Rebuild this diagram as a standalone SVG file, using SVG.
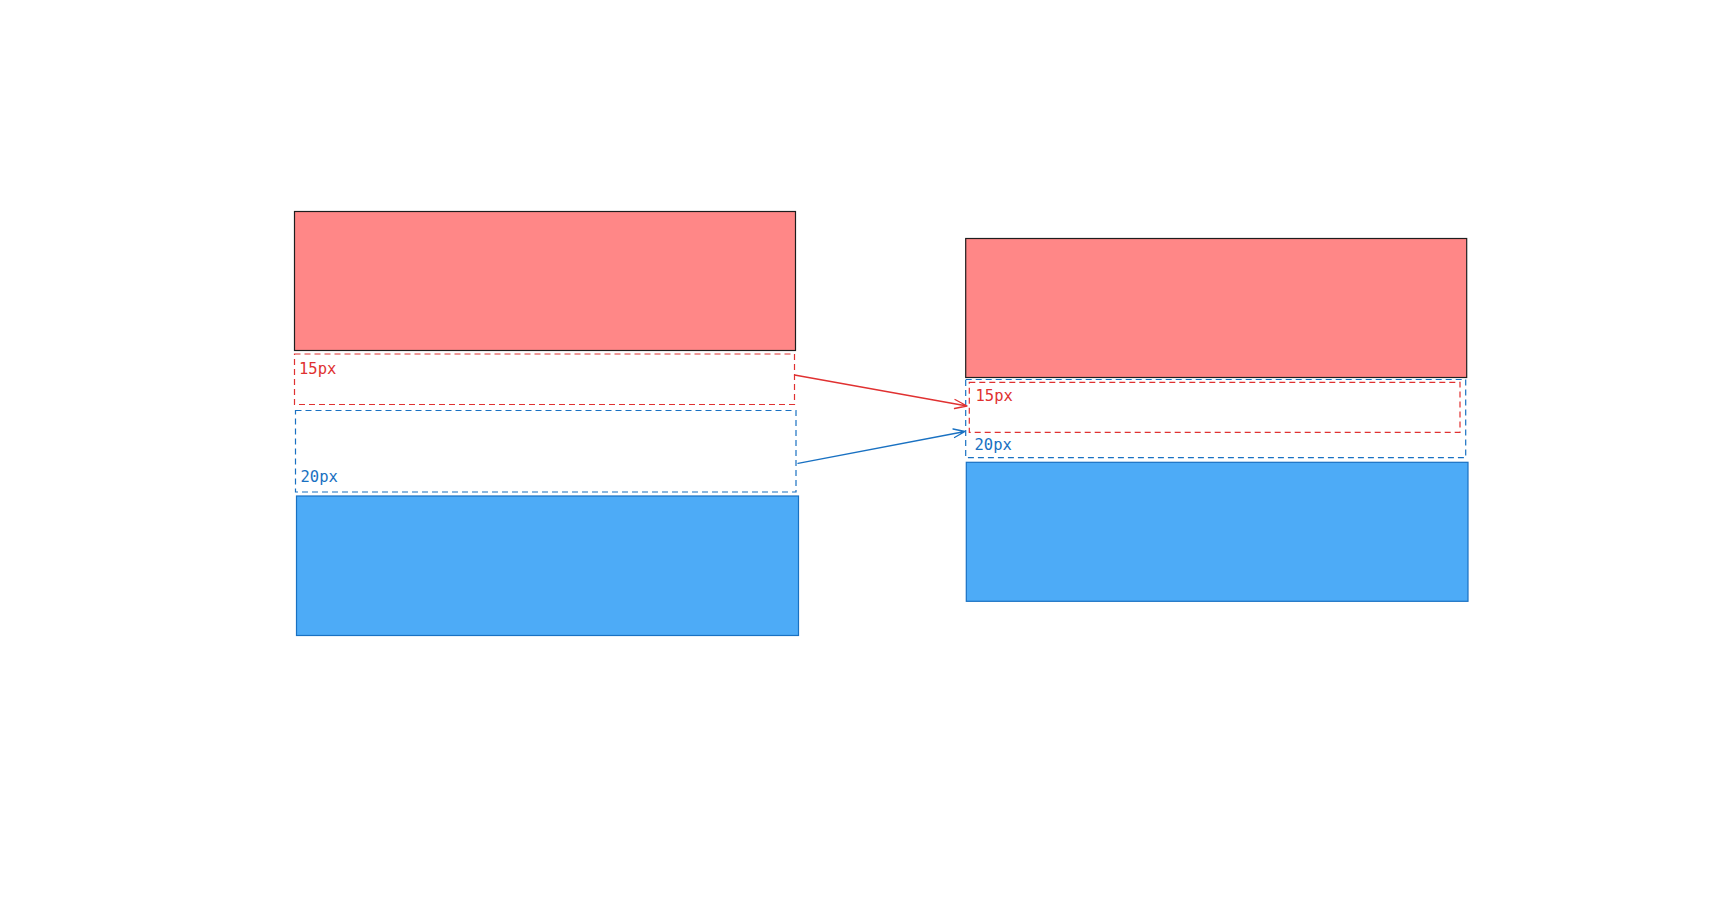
<svg xmlns="http://www.w3.org/2000/svg" width="1715" height="913" viewBox="0 0 1715 913">
<style>
.redbox{fill:#ff8787;stroke:#1e1e1e;stroke-width:1.2}
.bluebox{fill:#4dabf7;stroke:#1971c2;stroke-width:1.2}
.rdash{fill:none;stroke:#e03131;stroke-width:1.2;stroke-dasharray:6 4}
.bdash{fill:none;stroke:#1971c2;stroke-width:1.2;stroke-dasharray:6 4}
.rt{fill:#e03131;font-family:"DejaVu Sans Mono","Liberation Mono",monospace;font-size:15.5px}
.bt{fill:#1971c2;font-family:"DejaVu Sans Mono","Liberation Mono",monospace;font-size:15.5px}
.ra{fill:none;stroke:#e03131;stroke-width:1.3;stroke-linecap:round;stroke-linejoin:round}
.ba{fill:none;stroke:#1971c2;stroke-width:1.3;stroke-linecap:round;stroke-linejoin:round}
</style>
<rect width="1715" height="913" fill="#ffffff"/>
<g id="left-red"><rect class="redbox" x="294.5" y="211.5" width="501" height="139"/></g>
<g id="left-red-margin"><rect class="rdash" x="294.5" y="354" width="500" height="50.5"/><text class="rt" x="299" y="374">15px</text></g>
<g id="left-blue-margin"><rect class="bdash" x="295.5" y="410.5" width="500.5" height="81.5"/><text class="bt" x="300.5" y="482">20px</text></g>
<g id="left-blue"><rect class="bluebox" x="296.5" y="496" width="502" height="139.5"/></g>
<g id="right-red"><rect class="redbox" x="965.7" y="238.5" width="501" height="139"/></g>
<g id="right-blue-margin"><rect class="bdash" x="965.7" y="379.5" width="500" height="78.2"/><text class="bt" x="974.5" y="450">20px</text></g>
<g id="right-red-margin"><rect class="rdash" x="969.3" y="382.3" width="490.7" height="50"/><text class="rt" x="975.5" y="400.5">15px</text></g>
<g id="right-blue"><rect class="bluebox" x="966.3" y="462.3" width="501.7" height="139"/></g>
<g id="connectors">
<path class="ra" d="M794.5 375 L967 406 M955 399.5 L967 406 M954.5 408.5 L967 406"/>
<path class="ba" d="M798 463.3 L965 431.5 M953 429 L965 431.5 M954.5 437.5 L965 431.5"/>
</g>
</svg>
